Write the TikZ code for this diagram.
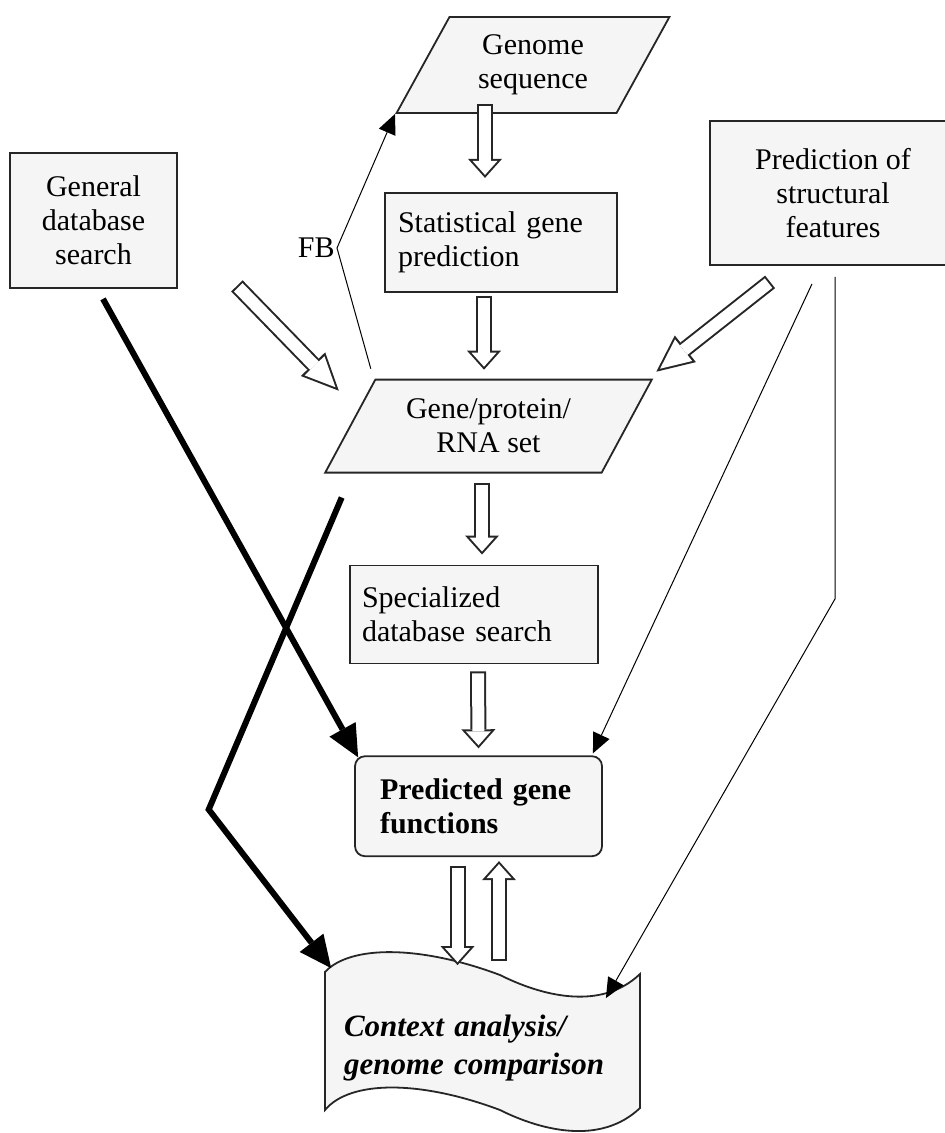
\documentclass[tikz,border=0pt]{standalone}
\usepackage{fontspec}
\setmainfont{Liberation Serif}
\usetikzlibrary{shapes.geometric, arrows.meta, calc, positioning}

\tikzset{
    box/.style={draw=black!85, line width=0.9pt, fill=black!4, inner sep=0pt},
    para/.style={box, trapezium, trapezium stretches=true},
    thin-arrow/.style={line width=0.5pt, -{Triangle[length=10pt, width=9pt, line width=0pt]}},
    bold-arrow/.style={line width=3pt, line join=miter, -{Triangle[length=16pt, width=15pt, line width=0pt]}},
    hollow-arrow/.style={draw=black!85, line width=8pt, -{Triangle[length=9.5pt, width=17pt, line width=0pt]},
        postaction={draw=white, line width=6pt, shorten <=1pt, shorten >=1.5pt,
            -{Triangle[length=7pt, width=12.5pt, line width=0pt]}}},
    hollow-long/.style={draw=black!85, line width=8pt, -{Triangle[length=18.5pt, width=17pt, line width=0pt]},
        postaction={draw=white, line width=6pt, shorten <=1pt, shorten >=2.4pt,
            -{Triangle[length=15pt, width=13.8pt, line width=0pt]}}}
}

\begin{document}
\begin{tikzpicture}[x=0.5pt, y=-0.5pt, font=\fontsize{15}{17}\selectfont]
    \useasboundingbox (0,0) rectangle (945,1133);

    % central column
    \node[para, trapezium left angle=60, trapezium right angle=120,
          minimum width=137pt, minimum height=48pt, align=center] (genome) at (533,65) {Genome\\sequence};
    \node[box, below=39pt of genome, xshift=-16pt, minimum height=49.5pt, inner xsep=6.5pt, text width=103pt, align=left] (stat) {Statistical gene\\prediction};
    \node[para, trapezium left angle=56, trapezium right angle=124, below=43pt of stat, xshift=-6.25pt,
          minimum width=163.5pt, minimum height=46.5pt, align=center] (geneset) {Gene/protein/\\RNA set};
    \node[box, below=45.5pt of geneset, xshift=-7.25pt, minimum height=49pt, inner xsep=6pt, text width=112pt, align=left] (special) {Specialized\\database search};
    \node[box, rounded corners=5pt, below=45.5pt of special, xshift=2.25pt, minimum height=50pt, inner xsep=12.5pt, text width=98.5pt,
          align=left, font=\fontsize{15}{17}\selectfont\bfseries] (predicted) {Predicted gene\\functions};

    % document shape
    \draw[box] (325,972) .. controls (350,945) and (420,945) .. (500,975)
        .. controls (540,995) and (600,1012) .. (640,974) -- (640,1108)
        .. controls (600,1146) and (540,1130) .. (500,1110)
        .. controls (420,1080) and (350,1080) .. (325,1110) -- cycle;
    \node[below=50.5pt of predicted, xshift=1.75pt, minimum width=157.5pt, minimum height=90pt, inner sep=0pt,
          text width=138pt, align=left, font=\fontsize{15.5}{19}\selectfont\bfseries\itshape] (context) {Context analysis/\\genome comparison};

    % side boxes
    \node[box, minimum width=83.5pt, minimum height=67.5pt, align=center] (general) at (93.5,220.5) {General\\database\\search};
    \node[box, minimum width=123pt, minimum height=72pt, align=center] (prediction) at (833,193) {Prediction of\\structural\\features};

    % hollow arrows
    \draw[hollow-arrow] ([xshift=-24pt, yshift=5pt]genome.south) -- ([xshift=-8pt, yshift=7pt]stat.north);
    \draw[hollow-arrow] ([xshift=-8.5pt, yshift=-1.5pt]stat.south) -- ([xshift=-2.25pt, yshift=4.5pt]geneset.north);
    \draw[hollow-arrow] ([xshift=-3.25pt, yshift=-4.5pt]geneset.south) -- ([xshift=4pt, yshift=5pt]special.north);
    \draw[hollow-arrow] ([xshift=2pt, yshift=-3.5pt]special.south) -- ([yshift=3.5pt]predicted.north);
    \draw[hollow-arrow] ([xshift=-10.5pt, yshift=-4.5pt]predicted.south) -- ([xshift=-12.25pt, yshift=-3.5pt]context.north);
    \draw[hollow-arrow] ([xshift=8.5pt, yshift=-1.5pt]context.north) -- ([xshift=10.25pt, yshift=-2pt]predicted.south);
    \draw[hollow-long] ([xshift=29.5pt, yshift=1.5pt]general.south east) -- ([xshift=-18pt, yshift=-6pt]geneset.top left corner);
    \draw[hollow-long] ([xshift=30.5pt, yshift=-8pt]prediction.south west) -- ([xshift=1.5pt, yshift=3.5pt]geneset.top right corner);

    % feedback
    \coordinate (fbturn) at (337,248);
    \node[left=0pt of fbturn, inner sep=1pt] (fb) {FB};
    \draw[thin-arrow] ([xshift=-2pt, yshift=5pt]geneset.top left corner) -- (fbturn) -- (genome.bottom left corner);

    % thin arrows
    \draw[thin-arrow] ([xshift=-10.5pt, yshift=-9pt]prediction.south) -- ([xshift=-5pt, yshift=1pt]predicted.north east);
    \draw[thin-arrow] ([xshift=1pt, yshift=-5.5pt]prediction.south) -- ++(0,322) -- ([xshift=-17pt, yshift=-20pt]context.north east);

    % bold arrows
    \draw[bold-arrow] ([xshift=4.75pt, yshift=-5pt]general.south) -- ([xshift=2pt, yshift=-1pt]predicted.north west);
    \draw[bold-arrow] ([xshift=9pt, yshift=-12pt]geneset.bottom left corner) -- ++(-133,312) -- ([xshift=3.5pt, yshift=-5pt]context.north west);

\end{tikzpicture}
\end{document}
